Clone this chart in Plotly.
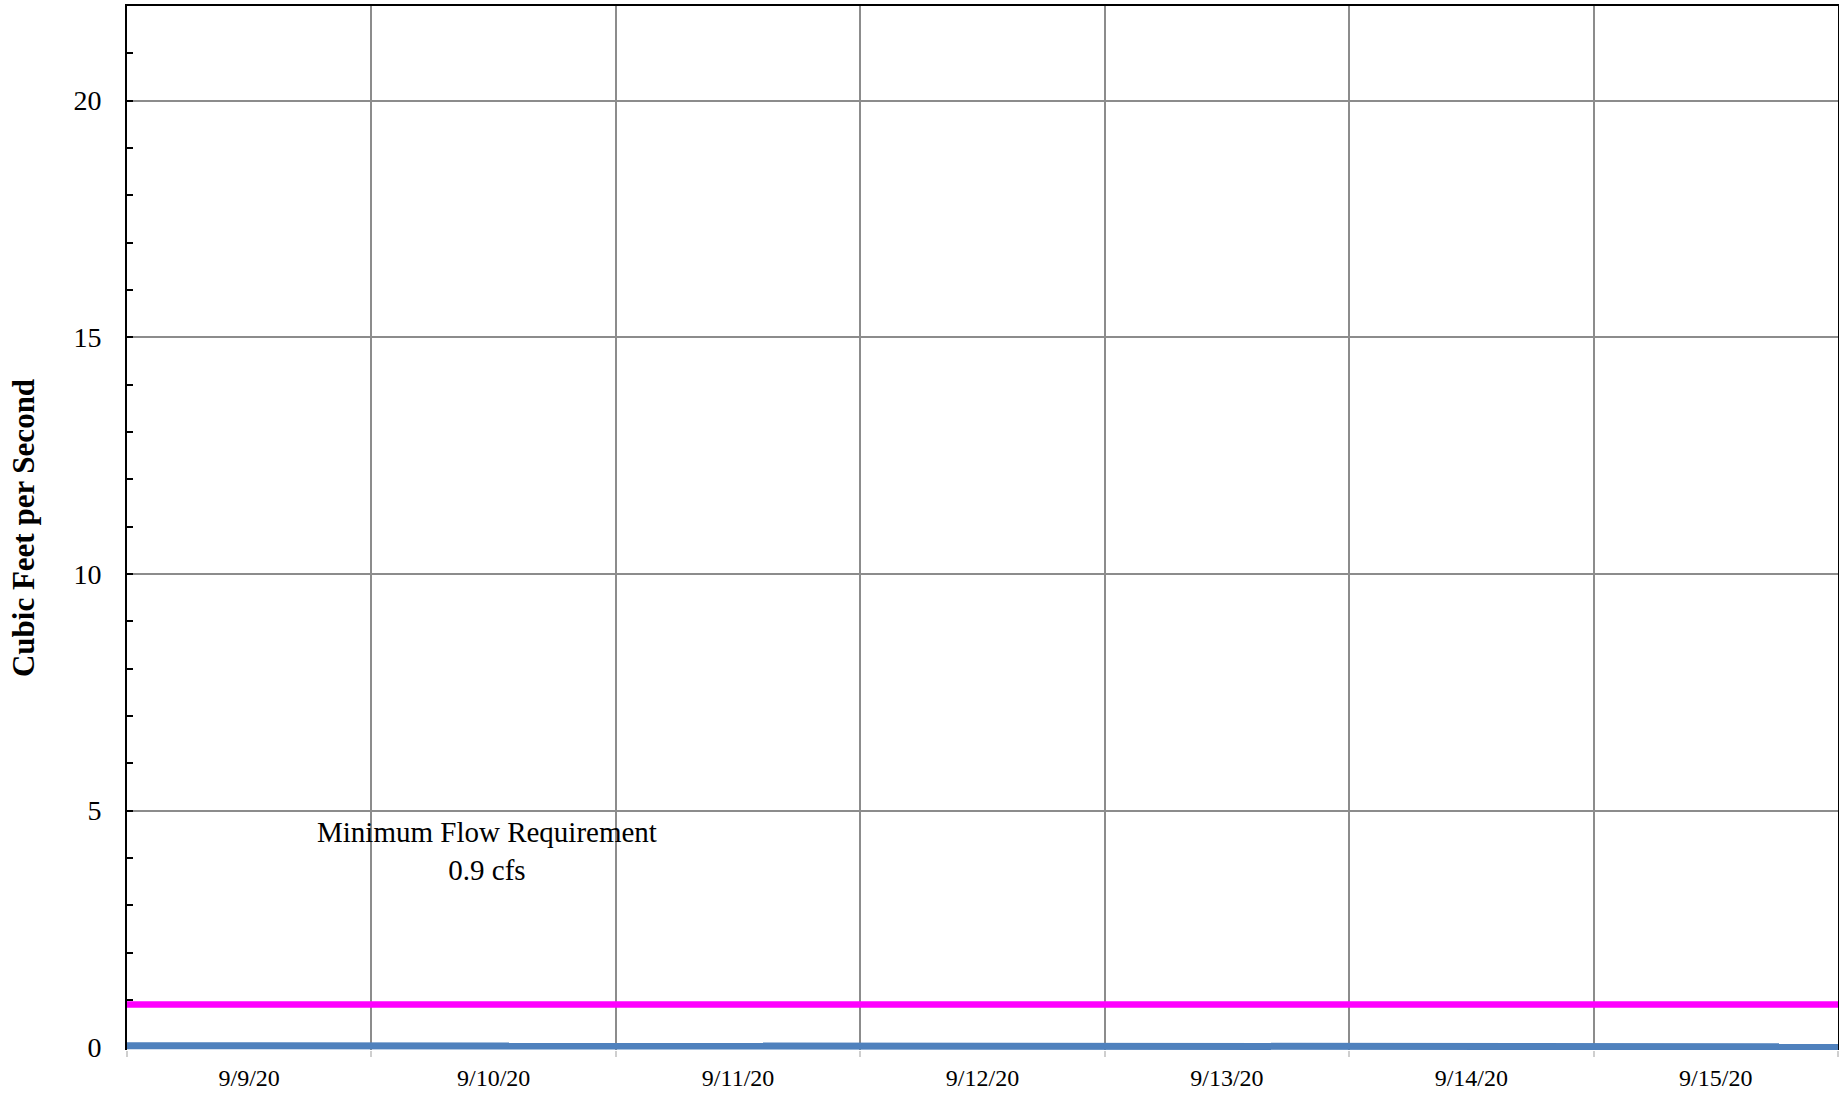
import pandas as pd
import plotly.graph_objects as go

# ---- data ----
flow_times = pd.date_range("2020-09-09 00:00", "2020-09-16 00:00", freq="6h")
flow_cfs = [0.03, 0.03, 0.03, 0.03, 0.03, 0.03, 0.03, 0.03,
            0.03, 0.03, 0.03, 0.03, 0.03, 0.03, 0.03, 0.03,
            0.03, 0.03, 0.03, 0.03, 0.03, 0.03, 0.03, 0.03,
            0.03, 0.03, 0.02, 0.01, 0.01]
min_flow_times = ["2020-09-09 00:00", "2020-09-16 00:00"]
min_flow_cfs = [0.9, 0.9]

x_tick_vals = ["2020-09-09 12:00", "2020-09-10 12:00", "2020-09-11 12:00",
               "2020-09-12 12:00", "2020-09-13 12:00", "2020-09-14 12:00",
               "2020-09-15 12:00"]
x_tick_text = ["9/9/20", "9/10/20", "9/11/20", "9/12/20", "9/13/20",
               "9/14/20", "9/15/20"]
y_tick_vals = [0, 5, 10, 15, 20]
y_tick_text = ["0", "5", "10", "15", "20"]

annotation_text = "Minimum Flow Requirement<br>0.9 cfs"
y_title = "Cubic Feet per Second"

SERIF = "Liberation Serif, Times New Roman, serif"

fig = go.Figure()
fig.add_trace(go.Scatter(
    x=flow_times, y=flow_cfs, mode="lines",
    line=dict(color="#4F81BD", width=7),
    showlegend=False, hoverinfo="x+y",
))
fig.add_trace(go.Scatter(
    x=min_flow_times, y=min_flow_cfs, mode="lines",
    line=dict(color="#FF00FF", width=6.5),
    xaxis="x2",
    showlegend=False, hoverinfo="x+y",
))

fig.add_annotation(
    x="2020-09-10 11:20", y=4.15, xref="x", yref="y",
    text=annotation_text, showarrow=False,
    font=dict(family=SERIF, size=29, color="black"),
    align="center",
)

fig.update_layout(
    width=1839, height=1095,
    margin=dict(l=127, r=1, t=6, b=45),
    paper_bgcolor="white", plot_bgcolor="white",
    showlegend=False,
    font=dict(family=SERIF, color="black"),
    xaxis2=dict(
        type="date", overlaying="x", side="top", matches="x",
        showline=True, linecolor="black", linewidth=2,
        showticklabels=False, ticks="", showgrid=False, zeroline=False,
    ),
)

fig.layout.xaxis.update(
    type="date",
    range=["2020-09-09 00:00", "2020-09-16 00:00"],
    tickmode="array", tickvals=x_tick_vals, ticktext=x_tick_text,
    ticks="", showgrid=False,
    tickfont=dict(family=SERIF, size=24, color="black"),
    ticklabelstandoff=11,
    showline=False,
    zeroline=False,
    minor=dict(
        tickmode="linear", tick0="2020-09-09", dtick=86400000,
        showgrid=True, gridcolor="#8c8c8c", gridwidth=1.5,
        ticks="outside", ticklen=6, tickcolor="#cfcfcf", tickwidth=1.5,
    ),
)

fig.update_yaxes(
    range=[-0.06, 22],
    tickmode="array", tickvals=y_tick_vals, ticktext=y_tick_text,
    ticks="inside", ticklen=6, tickwidth=1.5, tickcolor="black",
    tickfont=dict(family=SERIF, size=28, color="black"),
    ticklabelstandoff=18,
    showgrid=True, gridcolor="#8c8c8c", gridwidth=1.5,
    showline=True, linecolor="black", linewidth=2, mirror=True,
    zeroline=False,
    layer="below traces",
    minor=dict(tickmode="linear", tick0=0, dtick=1, ticks="inside",
               ticklen=6, tickwidth=1.5, tickcolor="black", showgrid=False),
    title=dict(text="<b>" + y_title + "</b>",
               font=dict(family=SERIF, size=31, color="black"),
               standoff=30),
    automargin=False,
)

fig.write_html(
    "out.html",
    config={"displayModeBar": False},
    post_script="document.body.style.margin='0px';document.body.style.overflow='hidden';",
)
